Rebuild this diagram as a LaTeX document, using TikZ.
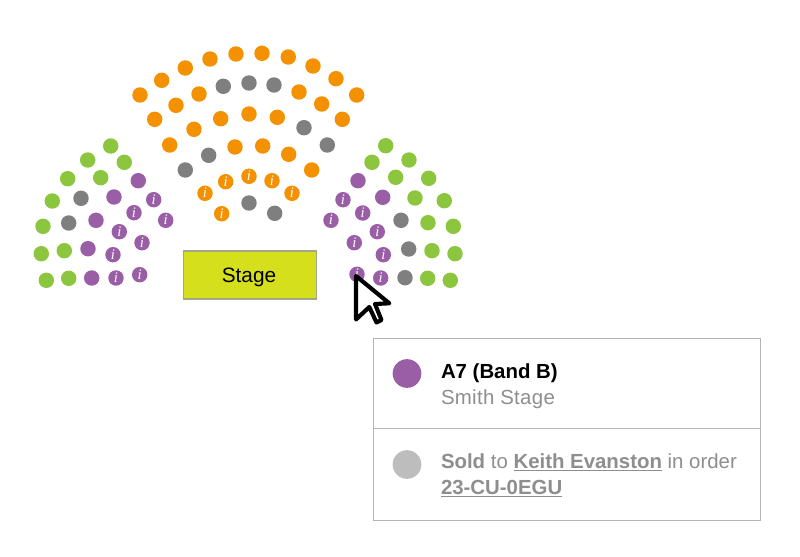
\documentclass[tikz,border=0pt]{standalone}
\usepackage{fontspec}
\setmainfont{Liberation Sans}
\newfontfamily\infofont{Liberation Serif}
\definecolor{seatorange}{HTML}{F49100}
\definecolor{seatgray}{HTML}{7F7F7F}
\definecolor{seatgreen}{HTML}{8CC63F}
\definecolor{seatpurple}{HTML}{9A5EA7}
\definecolor{stagefill}{HTML}{D6DF1C}
\definecolor{stageline}{HTML}{A3A78A}
\definecolor{panelline}{HTML}{B4B4B4}
\definecolor{softtext}{HTML}{8E8E8E}
\definecolor{soldgray}{HTML}{BDBDBD}
\tikzset{
  seat/.style={circle,minimum size=11.6pt,inner sep=0pt,outer sep=0pt,fill=#1},
  infoseat/.style={seat=#1,text=white,font=\infofont\itshape\fontsize{11pt}{11pt}\selectfont,text height=7pt,text depth=0pt},
  legenddot/.style={circle,minimum size=21.5pt,inner sep=0pt,fill=#1},
  lab/.style={anchor=base west,inner sep=0pt,outer sep=0pt,font=\fontsize{15.3pt}{17pt}\selectfont},
  panel/.style={draw=panelline,line width=0.9pt,fill=white},
}
\newcommand{\ulnk}[1]{\underline{#1}}
\begin{document}
\begin{tikzpicture}[x=0.75pt,y=-0.75pt]
\useasboundingbox (0,0) rectangle (800,557);
% orange seats
\foreach \x/\y [count=\n] in {140/95,161.7/80.3,185.3/68,210/59,236/54,262/53.3,288.3/57,313/66,336/78.7,356.7/95,
 154.7/119.3,176/105.3,199/94,299/92,321.7/104,342.3/119.3,
 169.7/145,194/129.3,220.7/118.7,249/114,277.3/117.3,
 235/147,262.7/146,288.7/154.3,311.7/170}
 \node[seat=seatorange] (o\n) at (\x,\y) {};
\foreach \x/\y [count=\n] in {205/193.3,225.7/181.7,249/176.3,272/180.7,292/193.3,221.7/213.7}
 \node[infoseat=seatorange] (oi\n) at (\x,\y) {i};
% gray seats
\foreach \x/\y [count=\n] in {223.3/86.3,249/83,274/85,304/127.7,327.3/145,185.3/170,208.7/155.3,249/203,274.7/213.3,
 81/198.3,68.7/223,401/220.3,408.7/249,405/277.7}
 \node[seat=seatgray] (g\n) at (\x,\y) {};
% green seats
\foreach \x/\y [count=\n] in {110.7/146,87.7/160,124.3/162.3,67.7/178.7,100.7/177.7,52.3/201,43/226.3,64.3/250.7,41.3/253.7,68.7/278.3,46.3/280.3,
 385.7/145.7,372/162.3,409/160,395.7/177.3,428.7/178.3,415/198,444.3/200.7,428/222.7,453.3/226.3,432/250.7,455/253.7,427.7/278.3,450.3/280.3}
 \node[seat=seatgreen] (v\n) at (\x,\y) {};
% purple seats
\foreach \x/\y [count=\n] in {138.3/180.7,114/197,96/220.3,88/248.7,91.7/278,358/180.7,382.7/197.3}
 \node[seat=seatpurple] (p\n) at (\x,\y) {};
\foreach \x/\y [count=\n] in {153.7/199.7,134/212.7,165.7/220.3,119.3/231.7,142/242.7,113/254.7,139.7/274.7,116/278,
 343/199.7,331/220.3,362.7/213,377.3/231.7,354.3/242.7,383.3/254.7,357/274.3,380.7/278}
 \node[infoseat=seatpurple] (pi\n) at (\x,\y) {i};
% stage
\node[draw=stageline,fill=stagefill,line width=0.8pt,minimum width=100pt,minimum height=36pt,inner sep=0pt] (stage) at (250,275) {};
\node[inner sep=0pt,anchor=base,font=\fontsize{15.6pt}{17pt}\selectfont] (stagelabel) at (249,282) {Stage};
% cursor
\draw[fill=white,draw=black,line width=3.1pt,line join=round] (356,276) -- (356,319.5) -- (369.3,307) -- (376.5,322.5) -- (381.5,320) -- (375,304) -- (389.3,303.3) -- cycle;
% info panel
\draw[panel] (373.3,338.3) rectangle (760.7,428.7);
\draw[panel] (373.3,428.7) rectangle (760.7,520.7);
\node[legenddot=seatpurple] (d1) at (407,373.5) {};
\node[legenddot=soldgray] (d2) at (407,464.5) {};
\node[lab,text=black,font=\fontsize{15.3pt}{17pt}\selectfont\bfseries] (t1) at (441,378) {A7 (Band B)};
\node[lab,text=softtext] (t2) at (441,404) {\addfontfeature{LetterSpace=1.5}Smith Stage};
\node[lab,text=softtext] (t3) at (441,468) {\textbf{Sold} to \textbf{\ulnk{Keith Evanston}} in order};
\node[lab,text=softtext] (t4) at (441,494) {\textbf{\ulnk{23-CU-0EGU}}};
\end{tikzpicture}
\end{document}
